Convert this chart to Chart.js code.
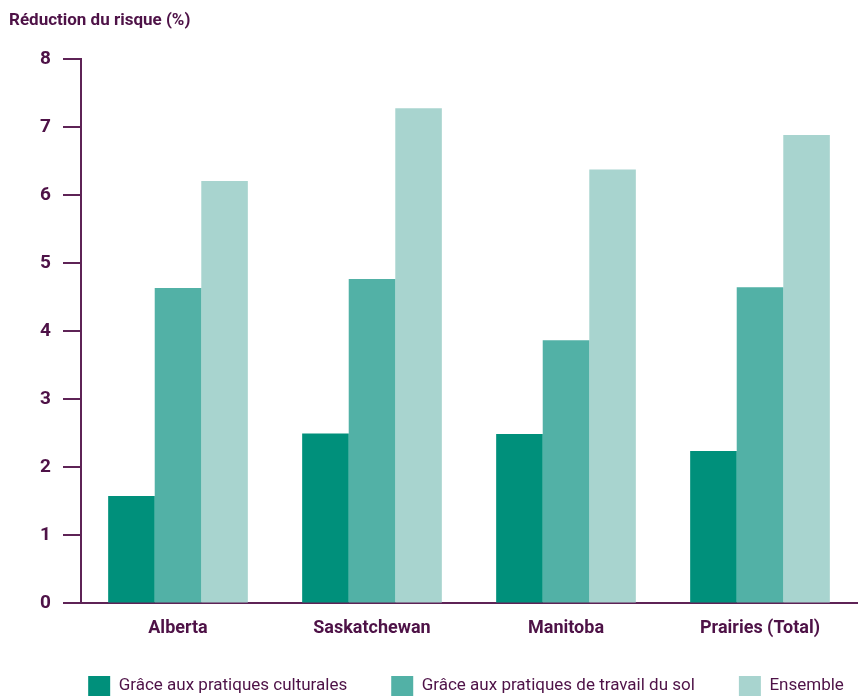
<!DOCTYPE html>
<html>
<head>
<meta charset="utf-8">
<script src="https://cdn.jsdelivr.net/npm/chart.js@4/dist/chart.umd.min.js"></script>
<style>
html,body{margin:0;padding:0;background:#fff;}
#wrap{width:858px;height:700px;position:relative;}
</style>
</head>
<body>
<div id="wrap"><canvas id="c"></canvas></div>
<script>
const categories = ["Alberta", "Saskatchewan", "Manitoba", "Prairies (Total)"];
const seriesNames = ["Grâce aux pratiques culturales", "Grâce aux pratiques de travail du sol", "Ensemble"];
const culturales = [1.58, 2.50, 2.49, 2.24];
const travailSol = [4.64, 4.77, 3.87, 4.65];
const ensemble = [6.21, 7.28, 6.38, 6.89];
const yTicks = [0, 1, 2, 3, 4, 5, 6, 7, 8];
const yTitle = "Réduction du risque (%)";

const PURPLE = "#4e1247";
const AXIS = "#5e2356";
const FONT = "Roboto, 'Liberation Sans', sans-serif";
const colors = ["#00907b", "#52b1a6", "#a8d4cf"];

const LEGEND_PAD = 44;
const LEGEND_ITEM_TOP = 676;
const LEGEND_SHIFT_X = 33;
// keep the legend band compact while using a wide horizontal item spacing
const legendHeight = {
  id: "legendHeight",
  afterInit(chart) {
    const lg = chart.legend;
    if (!lg) return;
    const orig = Object.getPrototypeOf(lg).fit;
    lg.fit = function () { orig.call(this); this.height = 47; };
  },
  afterLayout(chart) {
    const lg = chart.legend;
    if (!lg) return;
    lg.top = LEGEND_ITEM_TOP - LEGEND_PAD;
    lg.left += LEGEND_SHIFT_X;
    lg.right += LEGEND_SHIFT_X;
  }
};

new Chart(document.getElementById("c"), {
  type: "bar",
  plugins: [legendHeight],
  data: {
    labels: categories,
    datasets: [
      {label: seriesNames[0], data: culturales, backgroundColor: colors[0]},
      {label: seriesNames[1], data: travailSol, backgroundColor: colors[1]},
      {label: seriesNames[2], data: ensemble, backgroundColor: colors[2]}
    ]
  },
  options: {
    responsive: true,
    maintainAspectRatio: false,
    animation: false,
    layout: {padding: {left: 9, right: 1, top: 0, bottom: 0}},
    datasets: {bar: {barPercentage: 1, categoryPercentage: 0.72, borderWidth: 0}},
    plugins: {
      title: {
        display: true, text: yTitle, align: "start", color: PURPLE,
        font: {family: FONT, size: 17, weight: "bold"},
        padding: {top: 11, bottom: 28}
      },
      legend: {
        position: "bottom",
        labels: {
          color: PURPLE, boxWidth: 22, boxHeight: 20, padding: LEGEND_PAD,
          font: {family: FONT, size: 17}
        }
      },
      tooltip: {enabled: false}
    },
    scales: {
      x: {
        grid: {display: false, drawTicks: false},
        border: {display: true, color: AXIS, width: 2},
        ticks: {color: PURPLE, padding: 14, font: {family: FONT, size: 18, weight: "bold"}}
      },
      y: {
        min: 0, max: 8,
        afterBuildTicks: (ax) => { ax.ticks = yTicks.map(v => ({value: v})); },
        afterFit: (ax) => { ax.width = 72; },
        grid: {drawOnChartArea: false, drawTicks: true, tickLength: 18, color: AXIS, lineWidth: 2},
        border: {display: true, color: AXIS, width: 2},
        ticks: {color: PURPLE, padding: 12, font: {family: FONT, size: 19, weight: "bold"}}
      }
    }
  }
});
</script>
</body>
</html>
